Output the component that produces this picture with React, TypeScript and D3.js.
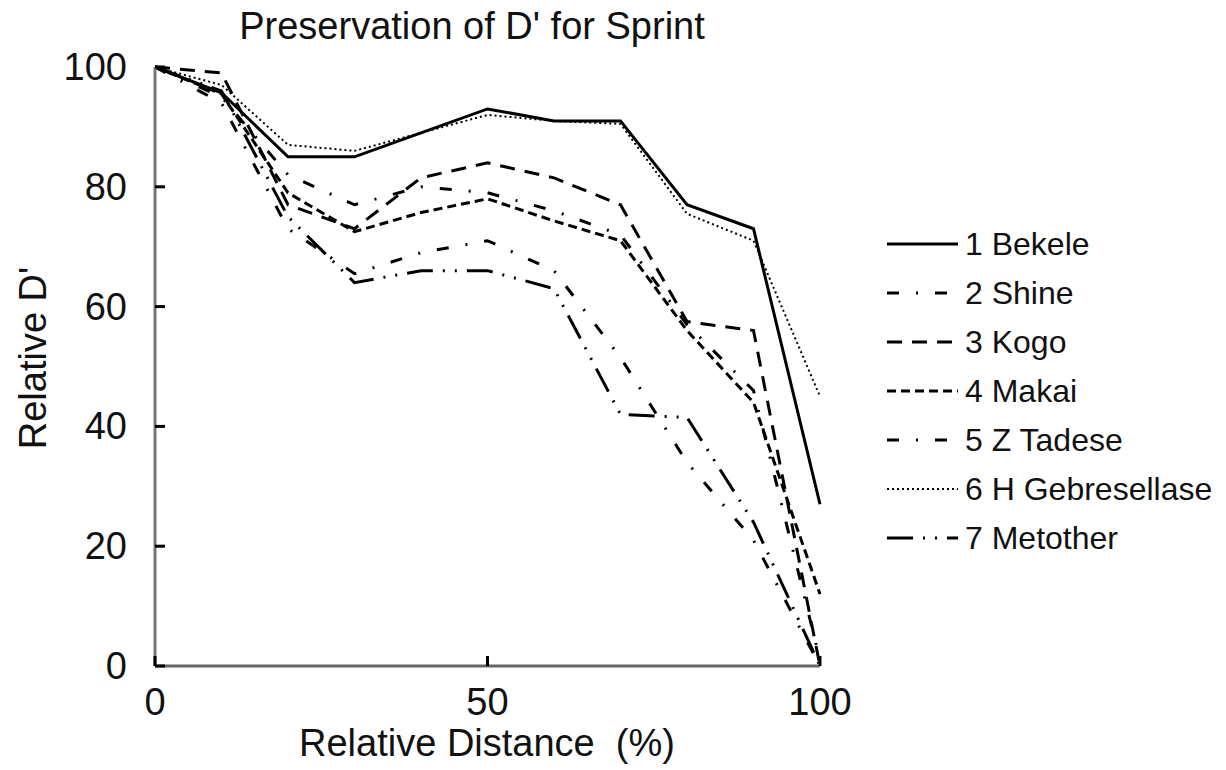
import React from "react";
import * as d3 from "d3";

const distances = [0, 10, 20, 30, 40, 50, 60, 70, 80, 90, 100];
const seriesNames = ["1 Bekele", "2 Shine", "3 Kogo", "4 Makai", "5 Z Tadese", "6 H Gebresellase", "7 Metother"];
const bekele = [100, 95.7, 85, 85, 89, 93, 91, 91, 77, 73, 27];
const shine = [100, 95, 82, 77, 80, 79, 76, 72, 57, 46, 1];
const kogo = [100, 99, 77, 73, 81.5, 84, 81.5, 77, 57.5, 56, 0];
const makai = [100, 95.5, 79, 72.5, 75.7, 78, 74.3, 71, 56, 44, 12];
const zTadese = [100, 94, 73, 65.5, 69, 71, 66, 51.5, 34, 21, 0];
const gebresellase = [100, 97, 87, 86, 89, 92, 91, 90.5, 75.5, 71, 45];
const metother = [100, 96, 75, 64, 66, 66, 63, 42, 41.5, 24, 0];
const seriesValues = [bekele, shine, kogo, makai, zTadese, gebresellase, metother];
const yTicks = [0, 20, 40, 60, 80, 100];
const xTicks = [0, 50, 100];

const dashes = ["none", "12,17,2,17", "15,10", "9,5", "12,17,2,17", "2,3", "26,10,2,10,2,10"];
const widths = [3, 3, 3, 3, 3, 2, 3];

export default function App() {
  const x = d3.scaleLinear().domain([0, 100]).range([155, 820]);
  const y = d3.scaleLinear().domain([0, 100]).range([666, 67]);
  const line = d3
    .line<number>()
    .x((_, i) => x(distances[i]))
    .y((d) => y(d));
  const font = "'Liberation Sans', Arial, Helvetica, sans-serif";
  const legendY = (i: number) => 244 + i * 49;
  return (
    <svg
      width={1226}
      height={770}
      style={{ position: "absolute", left: 0, top: 0, background: "#fff" }}
      fontFamily={font}
    >
      <rect x={0} y={0} width={1226} height={770} fill="#fff" />
      <text x={472} y={39} fontSize={38} textAnchor="middle" fill="#111">
        Preservation of D' for Sprint
      </text>
      {seriesValues.map((vals, i) => (
        <path
          key={i}
          d={line(vals) || ""}
          fill="none"
          stroke="#000"
          strokeWidth={widths[i]}
          strokeDasharray={dashes[i]}
          strokeLinejoin="miter"
        />
      ))}
      <line x1={x(0)} x2={x(0)} y1={y(100)} y2={y(0)} stroke="#777" strokeWidth={3} />
      <line x1={x(0)} x2={x(100)} y1={y(0)} y2={y(0)} stroke="#666" strokeWidth={3} />
      {yTicks.map((t) => (
        <g key={"y" + t}>
          <line x1={x(0)} x2={x(0) + 10} y1={y(t)} y2={y(t)} stroke="#000" strokeWidth={3} />
          <text x={127} y={y(t) + 13} fontSize={38} textAnchor="end" fill="#111">
            {t}
          </text>
        </g>
      ))}
      {xTicks.map((t) => (
        <g key={"x" + t}>
          <line x1={x(t)} x2={x(t)} y1={y(0)} y2={y(0) - 10} stroke="#000" strokeWidth={3} />
          <text x={x(t)} y={715} fontSize={38} textAnchor="middle" fill="#111">
            {t}
          </text>
        </g>
      ))}
      <text
        transform="translate(46,358) rotate(-90)"
        fontSize={38}
        textAnchor="middle"
        fill="#111"
      >
        Relative D'
      </text>
      <text x={487} y={756} fontSize={38} textAnchor="middle" fill="#111" style={{ whiteSpace: "pre" }}>
        {"Relative Distance  (%)"}
      </text>
      {seriesNames.map((name, i) => (
        <g key={name}>
          <line
            x1={887}
            x2={958}
            y1={legendY(i)}
            y2={legendY(i)}
            stroke="#000"
            strokeWidth={widths[i]}
            strokeDasharray={dashes[i]}
          />
          <text x={965} y={legendY(i) + 11} fontSize={32} fill="#111">
            {name}
          </text>
        </g>
      ))}
    </svg>
  );
}
